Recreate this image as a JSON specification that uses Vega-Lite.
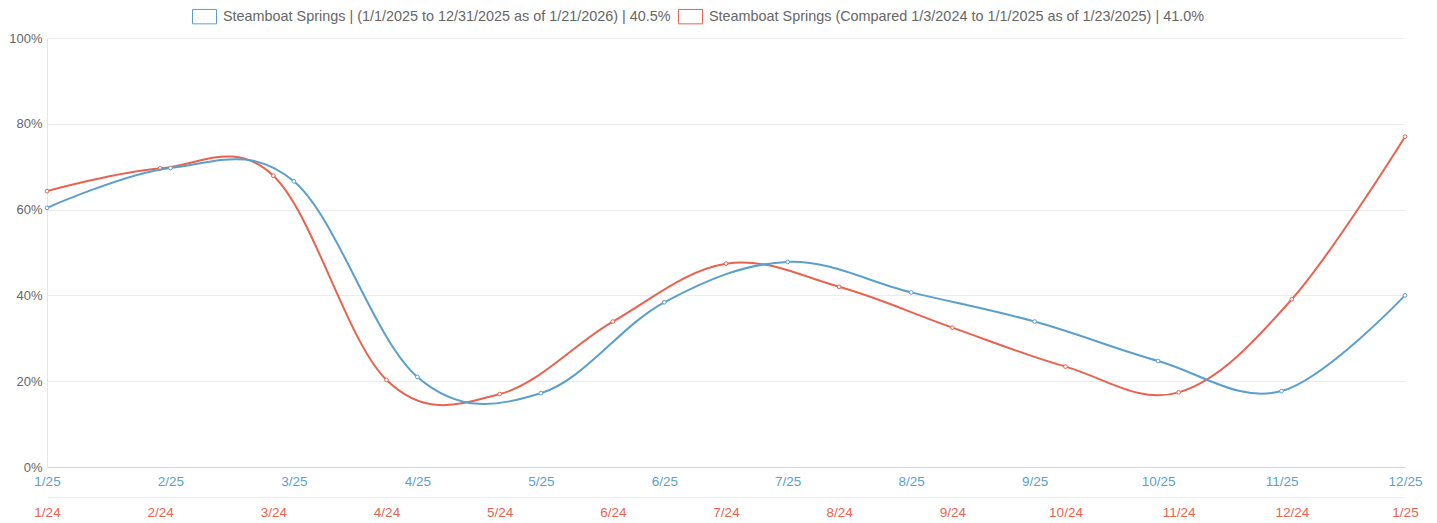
{
  "$schema": "https://vega.github.io/schema/vega-lite/v6.json",
  "autosize": {"type": "none"},
  "width": 1358,
  "height": 429,
  "padding": {"left": 47, "top": 38, "right": 32, "bottom": 56},
  "background": "white",
  "config": {
    "font": "Liberation Sans",
    "view": {"stroke": null},
    "axis": {"labelFont": "Liberation Sans", "labelFontSize": 13, "ticks": false, "title": null},
    "legend": {"labelFont": "Liberation Sans", "labelFontSize": 14.4, "labelColor": "#666666", "labelLimit": 0}
  },
  "datasets": {
    "cur": [
      {"m": "1/25", "v": 60.4},
      {"m": "2/25", "v": 69.7},
      {"m": "3/25", "v": 66.6},
      {"m": "4/25", "v": 21.0},
      {"m": "5/25", "v": 17.2},
      {"m": "6/25", "v": 38.4},
      {"m": "7/25", "v": 47.8},
      {"m": "8/25", "v": 40.7},
      {"m": "9/25", "v": 33.9},
      {"m": "10/25", "v": 24.7},
      {"m": "11/25", "v": 17.7},
      {"m": "12/25", "v": 40.0}
    ],
    "prev": [
      {"m": "1/24", "v": 64.3},
      {"m": "2/24", "v": 69.6},
      {"m": "3/24", "v": 67.9},
      {"m": "4/24", "v": 20.3},
      {"m": "5/24", "v": 17.0},
      {"m": "6/24", "v": 33.9},
      {"m": "7/24", "v": 47.4},
      {"m": "8/24", "v": 42.0},
      {"m": "9/24", "v": 32.5},
      {"m": "10/24", "v": 23.4},
      {"m": "11/24", "v": 17.4},
      {"m": "12/24", "v": 39.1},
      {"m": "1/25", "v": 77.0}
    ]
  },
  "layer": [
    {
      "data": {"name": "prev"},
      "mark": {"type": "line", "interpolate": "cardinal", "tension": -0.05, "strokeWidth": 2, "point": {"filled": false, "fill": "white", "size": 14, "strokeWidth": 1}},
      "encoding": {
        "x": {"field": "m", "type": "ordinal", "sort": null, "scale": {"type": "point", "padding": 0},
              "axis": {"orient": "bottom", "offset": 30, "labelColor": "#e8634f", "labelFontSize": 13.5, "labelAngle": 0, "labelOverlap": false, "labelPadding": 8, "domainColor": "#eeeeee", "grid": false}},
        "y": {"field": "v", "type": "quantitative", "scale": {"domain": [0, 100], "nice": false},
              "axis": {"values": [0, 20, 40, 60, 80, 100], "labelExpr": "datum.value + '%'", "labelColor": "#666666", "labelPadding": 5, "gridColor": "#ececec", "domainColor": "#e6e6e6"}},
        "color": {"datum": "Steamboat Springs (Compared 1/3/2024 to 1/1/2025 as of 1/23/2025) | 41.0%", "type": "nominal",
                  "scale": {"domain": ["Steamboat Springs | (1/1/2025 to 12/31/2025 as of 1/21/2026) | 40.5%", "Steamboat Springs (Compared 1/3/2024 to 1/1/2025 as of 1/23/2025) | 41.0%"], "range": ["#5b9fcc", "#e8634f"]},
                  "legend": {"orient": "none", "legendX": 145, "legendY": -34, "direction": "horizontal", "title": null, "symbolType": "M-1,-0.6H1V0.6H-1Z", "symbolSize": 576, "symbolFillColor": "white", "symbolStrokeWidth": 1, "columnPadding": 5, "labelOffset": 6}}
      }
    },
    {
      "data": {"name": "cur"},
      "mark": {"type": "line", "interpolate": "cardinal", "tension": -0.05, "strokeWidth": 2, "point": {"filled": false, "fill": "white", "size": 14, "strokeWidth": 1}},
      "encoding": {
        "x": {"field": "m", "type": "ordinal", "sort": null, "scale": {"type": "point", "padding": 0},
              "axis": {"orient": "bottom", "offset": 0, "labelColor": "#5b9fcc", "labelFontSize": 13.5, "labelAngle": 0, "labelOverlap": false, "labelPadding": 7, "domainColor": "#d4d4d4", "grid": false}},
        "y": {"field": "v", "type": "quantitative"},
        "color": {"datum": "Steamboat Springs | (1/1/2025 to 12/31/2025 as of 1/21/2026) | 40.5%", "type": "nominal"}
      }
    }
  ],
  "resolve": {"scale": {"x": "independent"}, "axis": {"x": "independent"}}
}
